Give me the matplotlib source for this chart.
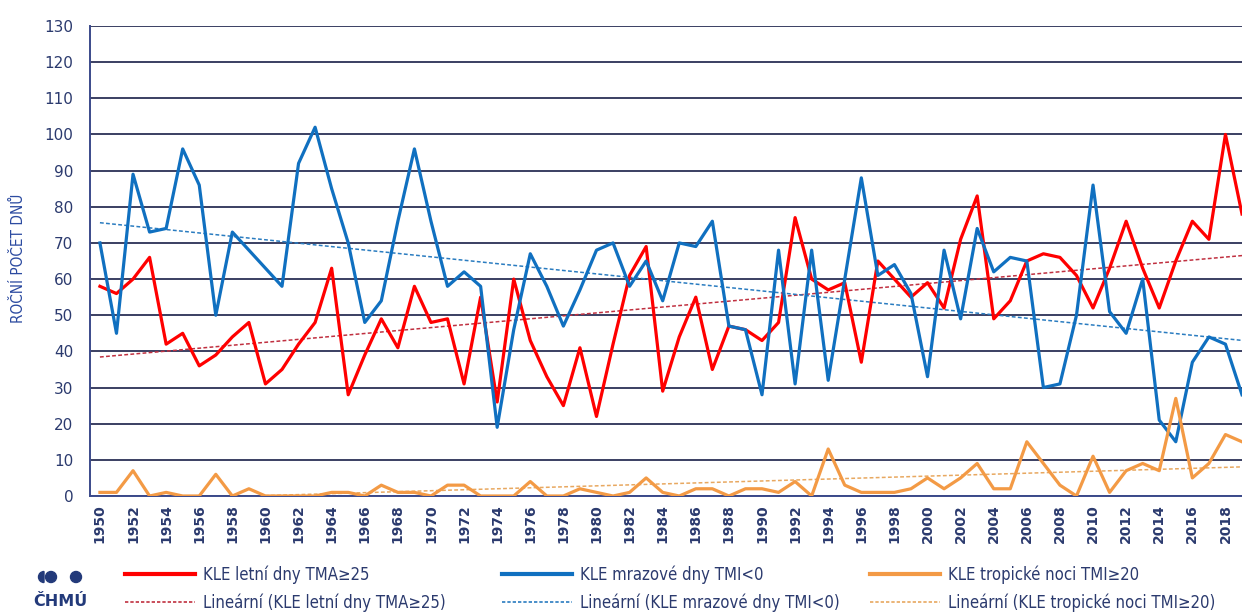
import numpy as np
import matplotlib
matplotlib.use("Agg")
import matplotlib.pyplot as plt
from matplotlib.lines import Line2D
from matplotlib.patches import Circle, Wedge

years = list(range(1950, 2020))

# KLE letni dny TMA>=25
letni = [58, 56, 60, 66, 42, 45, 36, 39, 44, 48,
         31, 35, 42, 48, 63, 28, 39, 49, 41, 58,
         48, 49, 31, 55, 26, 60, 43, 33, 25, 41,
         22, 42, 61, 69, 29, 44, 55, 35, 47, 46,
         43, 48, 77, 60, 57, 59, 37, 65, 60, 55,
         59, 52, 71, 83, 49, 54, 65, 67, 66, 61,
         52, 63, 76, 63, 52, 65, 76, 71, 100, 78]

# KLE mrazove dny TMI<0
mrazove = [70, 45, 89, 73, 74, 96, 86, 50, 73, 68,
           63, 58, 92, 102, 85, 70, 48, 54, 76, 96,
           76, 58, 62, 58, 19, 46, 67, 58, 47, 57,
           68, 70, 58, 65, 54, 70, 69, 76, 47, 46,
           28, 68, 31, 68, 32, 60, 88, 61, 64, 56,
           33, 68, 49, 74, 62, 66, 65, 30, 31, 50,
           86, 51, 45, 60, 21, 15, 37, 44, 42, 28]

# KLE tropicke noci TMI>=20
tropicke = [1, 1, 7, 0, 1, 0, 0, 6, 0, 2,
            0, 0, 0, 0, 1, 1, 0, 3, 1, 1,
            0, 3, 3, 0, 0, 0, 4, 0, 0, 2,
            1, 0, 1, 5, 1, 0, 2, 2, 0, 2,
            2, 1, 4, 0, 13, 3, 1, 1, 1, 2,
            5, 2, 5, 9, 2, 2, 15, 9, 3, 0,
            11, 1, 7, 9, 7, 27, 5, 9, 17, 15]

labels = ["KLE letní dny TMA≥25", "KLE mrazové dny TMI<0", "KLE tropické noci TMI≥20"]
colors = ["#ff0000", "#1070c0", "#f39a45"]
trend_colors = ["#c03040", "#2a7cc0", "#e8a860"]

navy = "#2b3a6e"

fig = plt.figure(figsize=(12.42, 6.14), dpi=100)
ax = fig.add_axes([90 / 1242, 118 / 614, 1 - 90 / 1242, 470 / 614])

x = np.array(years)
series = [letni, mrazove, tropicke]
for vals, c in zip(series, colors):
    ax.plot(x, vals, color=c, lw=2.3, zorder=3)

for vals, c in zip(series, trend_colors):
    k, q = np.polyfit(x, vals, 1)
    ax.plot(x, k * x + q, color=c, lw=1.1, ls=(0, (2.5, 1.5)), zorder=2)

ax.set_xlim(1949.4, 2019.0)
ax.set_ylim(0, 130)
ax.set_yticks(range(0, 131, 10))
ax.set_xticks(range(1950, 2019, 2))
ax.tick_params(axis="x", rotation=90, length=0, pad=6, labelsize=10, colors=navy)
ax.tick_params(axis="y", length=0, pad=12, labelsize=11, colors=navy)
for t in ax.get_xticklabels():
    t.set_fontweight("bold")
ax.grid(axis="y", color="#3a3f62", lw=1.4)
ax.set_axisbelow(True)
for s in ["top", "right"]:
    ax.spines[s].set_visible(False)
ax.spines["left"].set_color("#3b4a8a")
ax.spines["bottom"].set_color("#3b4a8a")
ax.spines["left"].set_linewidth(1.4)
ax.spines["bottom"].set_linewidth(1.4)

fig.text(18 / 1242, 1 - 258 / 614, "ROČNÍ POČET DNŮ", rotation=90, ha="center", va="center",
         color="#2b4aa0", fontsize=11, family="DejaVu Sans", fontstretch="condensed")

# legend, three groups of two rows
starts = [125, 502, 870]
for i in range(3):
    handles = [Line2D([], [], color=colors[i], lw=3),
               Line2D([], [], color=trend_colors[i], lw=1.2, ls=(0, (2, 1.2)))]
    texts = [labels[i], "Lineární (" + labels[i] + ")"]
    fig.legend(handles, texts, loc="upper left", bbox_to_anchor=(starts[i] / 1242, 1 - 565 / 614),
               frameon=False, handlelength=4.2, handletextpad=0.5, labelspacing=0.62,
               borderaxespad=0, borderpad=0,
               prop={"family": "DejaVu Sans", "stretch": "condensed", "size": 12},
               labelcolor="#2b3a6e")

# CHMU logo (inch coordinates so circles stay round)
logo = "#233a7a"
tr = fig.dpi_scale_trans
fig.patches.append(Wedge((0.44, 0.37), 0.055, 90, 270, color=logo, transform=tr, figure=fig))
fig.patches.append(Circle((0.51, 0.37), 0.055, color=logo, transform=tr, figure=fig))
fig.patches.append(Circle((0.76, 0.37), 0.055, color=logo, transform=tr, figure=fig))
fig.text(60 / 1242, 1 - 601 / 614, "ČHMÚ", ha="center", va="center", color=logo,
         fontsize=11.5, fontweight="bold")

fig.savefig("out.png", dpi=100)
